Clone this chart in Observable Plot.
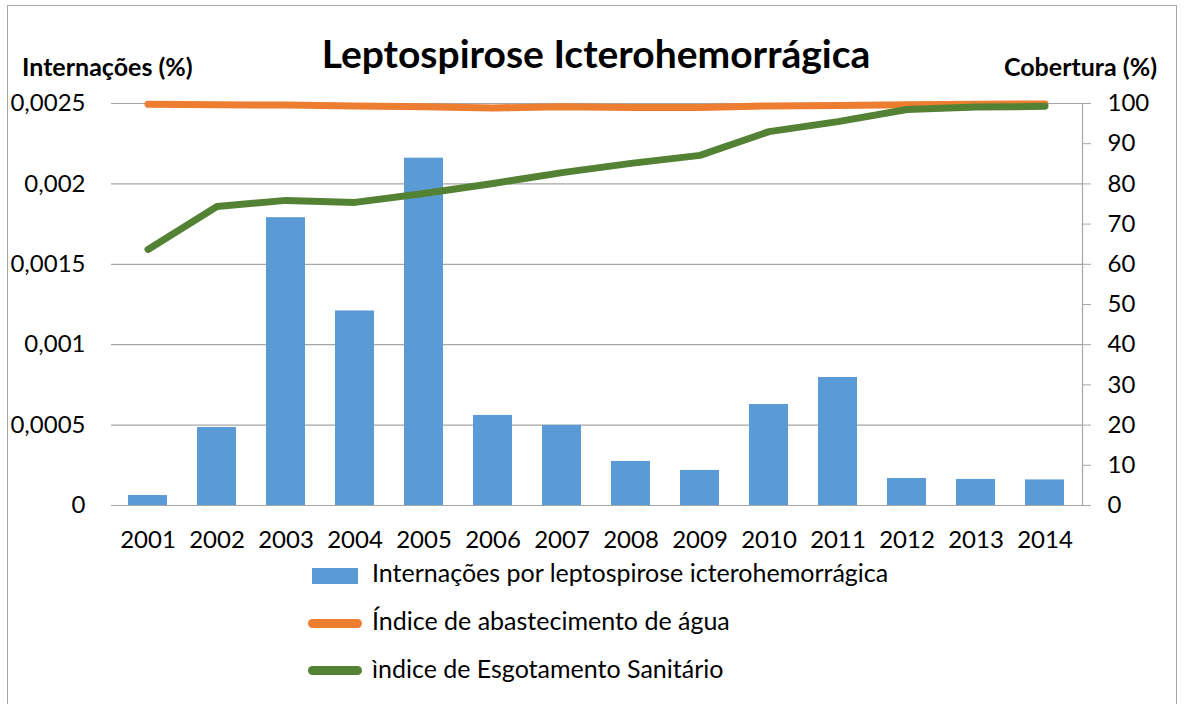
<!DOCTYPE html>
<html><head><meta charset="utf-8">
<script src="https://cdn.jsdelivr.net/npm/d3@7"></script>
<script src="https://cdn.jsdelivr.net/npm/@observablehq/plot@0.6"></script>
<style>
body{margin:0;background:#fff;font-family:Lato,"Open Sans",sans-serif;color:#000}
#wrap{position:relative;width:1184px;height:704px;overflow:hidden;background:#fff}
#border{position:absolute;left:7px;top:5px;width:1170px;height:720px;border:1.5px solid #a6a6a6;box-sizing:border-box}
.abs{position:absolute;white-space:nowrap}
#title{left:0;width:1192px;text-align:center;top:29px;font-size:39px;font-weight:700;line-height:48px}
#ylab{left:22px;top:51px;font-size:25px;font-weight:700;line-height:30px}
#ylab2{right:27px;top:51px;font-size:25px;font-weight:700;line-height:30px}
.leg{font-size:25px;line-height:30px;left:372px}
.sw{position:absolute}
#plot{position:absolute;left:0;top:0}
</style></head><body>
<div id="wrap">
<div id="border"></div>
<div id="plot"></div>
<div class="abs" id="title">Leptospirose Icterohemorrágica</div>
<div class="abs" id="ylab">Internações (%)</div>
<div class="abs" id="ylab2">Cobertura (%)</div>
<div class="sw" style="left:312px;top:568px;width:46px;height:16px;background:#5b9bd5"></div>
<div class="abs leg" style="top:557px">Internações por leptospirose icterohemorrágica</div>
<div class="sw" style="left:308px;top:619px;width:54px;height:9px;border-radius:4.5px;background:#ed7d31"></div>
<div class="abs leg" style="top:605px">Índice de abastecimento de água</div>
<div class="sw" style="left:308px;top:666px;width:54px;height:9px;border-radius:4.5px;background:#548235"></div>
<div class="abs leg" style="top:653px">ìndice de Esgotamento Sanitário</div>
</div>
<script>
const years = ["2001","2002","2003","2004","2005","2006","2007","2008","2009","2010","2011","2012","2013","2014"];
const internacoes = [0.000062,0.000485,0.00179,0.00121,0.00216,0.00056,0.000498,0.000274,0.000218,0.000628,0.000796,0.000168,0.000162,0.000159];
const agua = [99.8,99.7,99.6,99.4,99.2,98.9,99.2,99.0,99.0,99.4,99.5,99.7,99.8,99.9];
const esgoto = [63.7,74.4,75.9,75.4,77.6,80.1,82.8,85.1,87.1,93.0,95.5,98.5,99.1,99.3];
const leftTicks = [0,0.0005,0.001,0.0015,0.002,0.0025];
const leftLabels = ["0","0,0005","0,001","0,0015","0,002","0,0025"];
const rightTicks = [0,10,20,30,40,50,60,70,80,90,100];

const k = 0.0025/100;
const data = years.map((y,i)=>({year:y, v:internacoes[i], agua:agua[i]*k, esgoto:esgoto[i]*k}));

const chart = Plot.plot({
  width:1184, height:704,
  marginLeft:111, marginRight:102, marginTop:103, marginBottom:199,
  style:{fontFamily:"Lato, 'Open Sans', sans-serif", color:"#000", background:"transparent"},
  x:{type:"band", domain:years, paddingInner:0.43, paddingOuter:0.215, label:null},
  y:{domain:[0,0.0025], label:null},
  marks:[
    Plot.ruleY(leftTicks, {stroke:"#a6a6a6", strokeWidth:1.2}),
    Plot.barY(data, {x:"year", y:"v", fill:"#5b9bd5"}),
    Plot.line(data, {x:"year", y:"agua", stroke:"#ed7d31", strokeWidth:7, strokeLinecap:"round", strokeLinejoin:"round"}),
    Plot.line(data, {x:"year", y:"esgoto", stroke:"#548235", strokeWidth:7, strokeLinecap:"round", strokeLinejoin:"round"}),
    Plot.axisY(leftTicks, {anchor:"left", tickSize:0, tickPadding:26, fontSize:24, tickFormat:(d)=>leftLabels[leftTicks.indexOf(d)], label:null}),
    Plot.axisY(rightTicks.map(v=>v*k), {anchor:"right", tickSize:8, tickPadding:17, fontSize:24, stroke:"#a6a6a6", tickFormat:d=>String(Math.round(d/k)), label:null}),
    Plot.frame({anchor:"right", stroke:"#a6a6a6", strokeWidth:1.2}),
    Plot.axisX({tickSize:0, tickPadding:25, fontSize:24, label:null})
  ]
});
document.getElementById("plot").appendChild(chart);
</script>
</body></html>
